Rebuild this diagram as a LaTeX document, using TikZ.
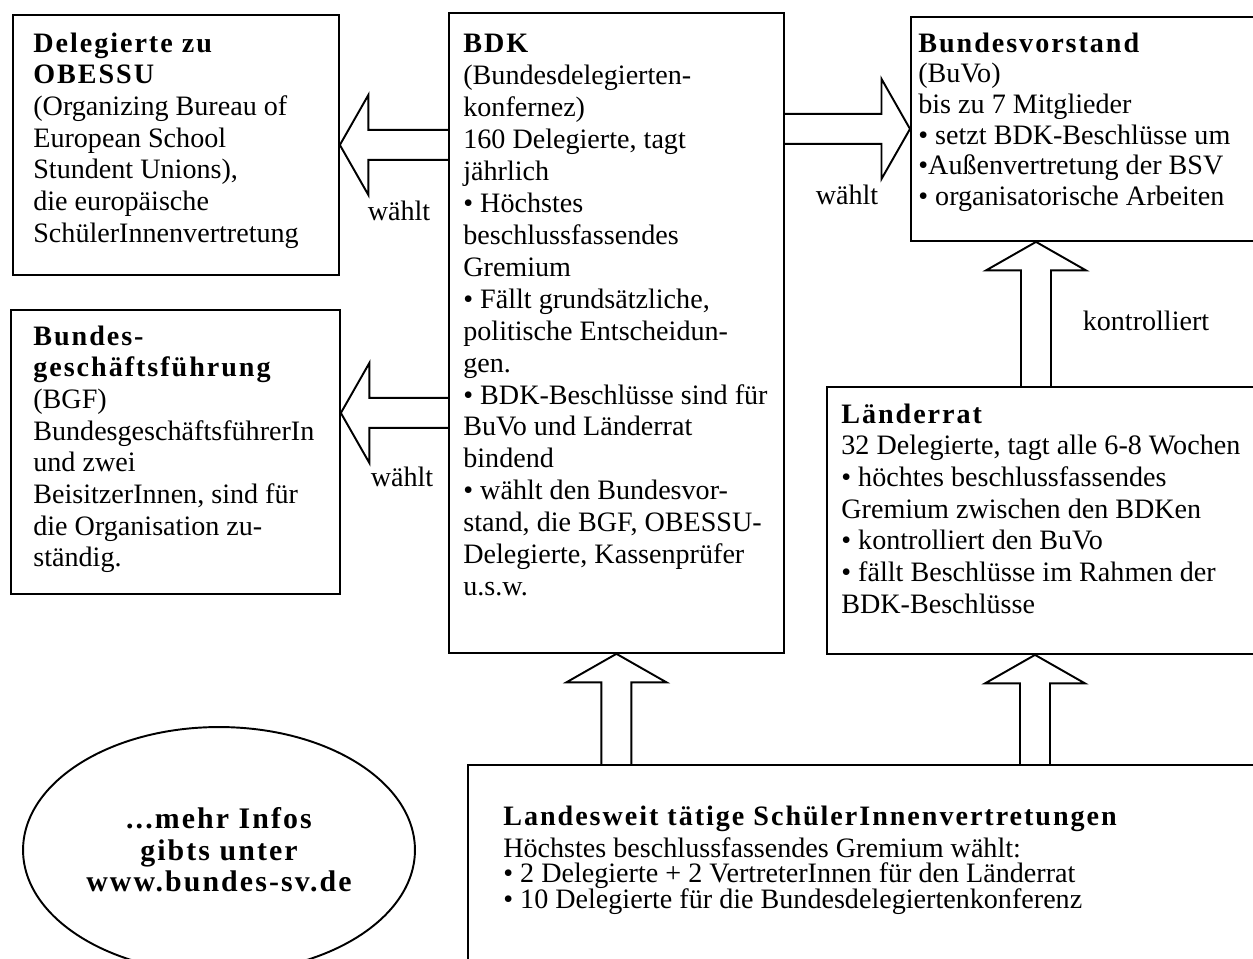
\documentclass[tikz,border=0pt]{standalone}
\usepackage{fontspec}
\setmainfont{Liberation Serif}
\usetikzlibrary{shapes.geometric, positioning, calc}
\lineskiplimit=-30pt
\newcommand{\boxtitle}[1]{{\bfseries\addfontfeature{LetterSpace=7}#1}}

\begin{document}
\begin{tikzpicture}[
    x=0.02cm, y=-0.02cm,
    box/.style={draw, line width=1.1pt, anchor=north west, inner sep=0pt},
    txt/.style={align=left, inner sep=0pt, font=\fontsize{16}{18}\selectfont},
    lbl/.style={inner sep=0pt, anchor=base, font=\fontsize{16}{18}\selectfont},
    blockarrow/.style={draw, line width=1.1pt, to path={
        let \p1=($(\tikztotarget)-(\tikztostart)$), \n1={atan2(\y1,\x1)} in
        ($(\tikztostart)+({\n1+90}:0.3cm)$)
        -- ($(\tikztotarget)+({\n1+180}:0.57cm)+({\n1+90}:0.3cm)$)
        -- ($(\tikztotarget)+({\n1+180}:0.57cm)+({\n1+90}:1cm)$)
        -- (\tikztotarget)
        -- ($(\tikztotarget)+({\n1+180}:0.57cm)+({\n1-90}:1cm)$)
        -- ($(\tikztotarget)+({\n1+180}:0.57cm)+({\n1-90}:0.3cm)$)
        -- ($(\tikztostart)+({\n1-90}:0.3cm)$)}}
]
    \useasboundingbox (0,0) rectangle (1253,958);

    \node[box, minimum width=6.52cm, minimum height=5.2cm] (obessu) at (12,14) {};
    \node[box, minimum width=6.58cm, minimum height=5.68cm] (bgf) at (10,309) {};
    \node[box, minimum width=6.7cm, minimum height=12.8cm] (bdk) at (448,12) {};
    \node[box, minimum width=8cm, minimum height=4.48cm] (buvo) at (910,16) {};
    \node[box, minimum width=9.6cm, minimum height=5.34cm] (laender) at (826,386) {};
    \node[box, minimum width=17cm, minimum height=5.2cm] (landes) at (467,764) {};
    \node[ellipse, draw, line width=1.1pt, minimum width=7.72cm, minimum height=4.92cm, align=center,
        font=\fontsize{17}{18}\selectfont\bfseries\addfontfeature{LetterSpace=7}] (infos) at (219,850)
        {...mehr Infos\\gibts unter\\www.bundes-sv.de};

    \node[txt, below right=0.37cm and 0.42cm of obessu.north west] (obessutext)
        {\boxtitle{Delegierte zu}\\\boxtitle{OBESSU}\\(Organizing Bureau of\\European School\\Stundent Unions),\\die europäische\\SchülerInnenvertretung};
    \node[txt, below right=0.33cm and 0.46cm of bgf.north west] (bgftext)
        {\boxtitle{Bundes-}\\\boxtitle{geschäftsführung}\\(BGF)\\BundesgeschäftsführerIn\\und zwei\\BeisitzerInnen, sind für\\die Organisation zu-\\ständig.};
    \node[txt, font=\fontsize{16}{18.2}\selectfont, below right=0.43cm and 0.3cm of bdk.north west] (bdktext)
        {\boxtitle{BDK}\\(Bundesdelegierten-\\konfernez)\\160 Delegierte, tagt\\jährlich\\• Höchstes\\beschlussfassendes\\Gremium\\• Fällt grundsätzliche,\\politische Entscheidun-\\gen.\\• BDK-Beschlüsse sind für\\BuVo und Länderrat\\bindend\\• wählt den Bundesvor-\\stand, die BGF, OBESSU-\\Delegierte, Kassenprüfer\\u.s.w.};
    \node[txt, font=\fontsize{16}{17.4}\selectfont, below right=0.33cm and 0.16cm of buvo.north west] (buvotext)
        {\boxtitle{Bundesvorstand}\\(BuVo)\\bis zu 7 Mitglieder\\• setzt BDK-Beschlüsse um\\•Außenvertretung der BSV\\• organisatorische Arbeiten};
    \node[txt, below right=0.35cm and 0.3cm of laender.north west] (laendertext)
        {\boxtitle{Länderrat}\\32 Delegierte, tagt alle 6-8 Wochen\\• höchtes beschlussfassendes\\Gremium zwischen den BDKen\\• kontrolliert den BuVo\\• fällt Beschlüsse im Rahmen der\\BDK-Beschlüsse};
    \node[txt, font=\fontsize{16}{14.6}\selectfont, below right=0.83cm and 0.72cm of landes.north west] (landestext)
        {\boxtitle{Landesweit tätige SchülerInnenvertretungen}\\[3.5pt]Höchstes beschlussfassendes Gremium wählt:\\• 2 Delegierte + 2 VertreterInnen für den Länderrat\\• 10 Delegierte für die Bundesdelegiertenkonferenz};

    \coordinate (bgfin) at ($(bgf.east)+(0,-39)$);
    \coordinate (kfoot) at ($(laender.north west)+(210,0)$);
    \coordinate (lfoot) at ($(landes.north west)+(568,0)$);

    \draw[blockarrow] (bdk.west |- obessu.east) to (obessu.east);
    \draw[blockarrow] (bdk.west |- bgfin) to (bgfin);
    \draw[blockarrow] (bdk.east |- buvo.west) to (buvo.west);
    \draw[blockarrow] (kfoot) to (kfoot |- buvo.south);
    \draw[blockarrow] (bdk.south |- landes.north) to (bdk.south);
    \draw[blockarrow] (lfoot) to (lfoot |- laender.south);

    \node[lbl] (waehltobessu) at (399,220) {wählt};
    \node[lbl] (waehltbgf) at (402,486) {wählt};
    \node[lbl] (waehltbuvo) at (847,204) {wählt};
    \node[lbl] (kontrolliert) at (1146,330) {kontrolliert};
\end{tikzpicture}
\end{document}
